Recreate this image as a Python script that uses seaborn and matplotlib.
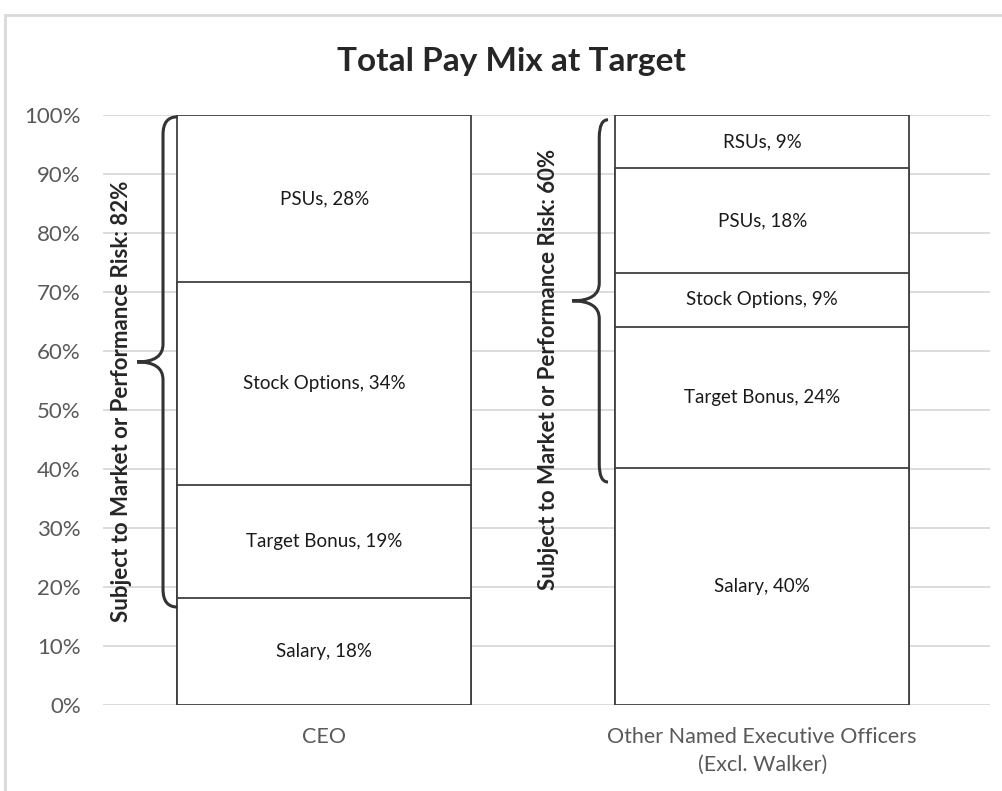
import pandas as pd
import seaborn as sns
import matplotlib.pyplot as plt
import matplotlib.ticker as ticker
from matplotlib.path import Path
from matplotlib.patches import PathPatch, Rectangle


# -------------------------------------------------
# DATA
# -------------------------------------------------

categories = ["CEO", "Other Named Executive Officers\n(Excl. Walker)"]

ceo_components = ["Salary", "Target Bonus", "Stock Options", "PSUs"]
ceo_values = [18.1, 19.2, 34.4, 28.3]
ceo_labels = [18, 19, 34, 28]

neo_components = ["Salary", "Target Bonus", "Stock Options", "PSUs", "RSUs"]
neo_values = [40.2, 23.9, 9.1, 17.8, 9.0]
neo_labels = [40, 24, 9, 18, 9]

risk_text = ["Subject to Market or Performance Risk: 82%",
             "Subject to Market or Performance Risk: 60%"]
risk_range = [(16.6, 99.7), (37.8, 99.2)]

title = "Total Pay Mix at Target"


# -------------------------------------------------
# LONG TABLE WITH CUMULATIVE TOPS
# -------------------------------------------------

rows = []
for cat, comps, vals, labs in [(categories[0], ceo_components, ceo_values, ceo_labels),
                               (categories[1], neo_components, neo_values, neo_labels)]:
    bottom = 0
    for i, (c, v, l) in enumerate(zip(comps, vals, labs)):
        rows.append({"group": cat, "layer": i, "component": c, "value": v,
                     "label": l, "bottom": bottom, "top": bottom + v})
        bottom += v

df = pd.DataFrame(rows)


# -------------------------------------------------
# PLOT
# -------------------------------------------------

sns.set_style("white")
plt.rcParams["font.family"] = ["Lato", "DejaVu Sans"]

fig = plt.figure(figsize=(10.03, 7.91), dpi=100)
ax = fig.add_axes([0.1027, 0.1087, 0.8843, 0.7459])

edge = "#404040"

# draw tallest cumulative layer first, smaller ones over it
for layer in sorted(df["layer"].unique(), reverse=True):
    sub = df[df["layer"] == layer]
    sns.barplot(data=sub, x="group", y="top", order=categories,
                color="white", edgecolor=edge, linewidth=1.3,
                width=0.67, errorbar=None, saturation=1, ax=ax)

for _, r in df.iterrows():
    xi = categories.index(r["group"])
    ax.text(xi, r["bottom"] + r["value"] / 2, f"{r['component']}, {r['label']}%",
            ha="center", va="center", fontsize=13.5, color="#1a1a1a")

ax.set_ylim(0, 100)
ax.set_xlim(-0.505, 1.52)
ax.yaxis.set_major_locator(ticker.MultipleLocator(10))
ax.yaxis.set_major_formatter(ticker.FuncFormatter(lambda v, pos: f"{v:.0f}%"))
ax.yaxis.grid(True, color="#d9d9d9", linewidth=1.3)
ax.set_axisbelow(True)
ax.tick_params(axis="y", length=0, labelsize=16, colors="#595959", pad=16)
ax.tick_params(axis="x", length=0, labelsize=15.5, colors="#595959", pad=16)
for lab in ax.get_xticklabels():
    lab.set_linespacing(1.5)
ax.set_xlabel("")
ax.set_ylabel("")
for s in ax.spines.values():
    s.set_visible(False)

fig.text(0.51, 0.922, title, ha="center", va="center",
         fontsize=24, fontweight="bold", color="#262626")


# -------------------------------------------------
# BRACES
# -------------------------------------------------

def brace(ax, x_line, x_tip, x_end, y0, y1, r=3.0):
    ym = (y0 + y1) / 2
    verts = [(x_end, y0), (x_line, y0), (x_line, y0 + r),
             (x_line, ym - r),
             (x_line, ym), (x_tip, ym),
             (x_line, ym), (x_line, ym + r),
             (x_line, y1 - r),
             (x_line, y1), (x_end, y1)]
    codes = [Path.MOVETO, Path.CURVE3, Path.CURVE3,
             Path.LINETO,
             Path.CURVE3, Path.CURVE3,
             Path.CURVE3, Path.CURVE3,
             Path.LINETO,
             Path.CURVE3, Path.CURVE3]
    ax.add_patch(PathPatch(Path(verts, codes), fill=False, edgecolor="#333333",
                           linewidth=2.2, clip_on=False, zorder=5))

brace(ax, -0.368, -0.427, -0.335, risk_range[0][0], risk_range[0][1])
brace(ax, 0.628, 0.566, 0.648, risk_range[1][0], risk_range[1][1])

ax.text(-0.462, 51.5, risk_text[0], rotation=90, ha="center", va="center",
        fontsize=16, fontweight="bold", color="#262626")
ax.text(0.511, 56.8, risk_text[1], rotation=90, ha="center", va="center",
        fontsize=16, fontweight="bold", color="#262626")

# chart border
fig.patches.append(Rectangle((0.005, -0.01), 1.0, 0.991, transform=fig.transFigure,
                             fill=False, edgecolor="#d9d9d9", linewidth=2))

plt.savefig("out.png", dpi=100)
